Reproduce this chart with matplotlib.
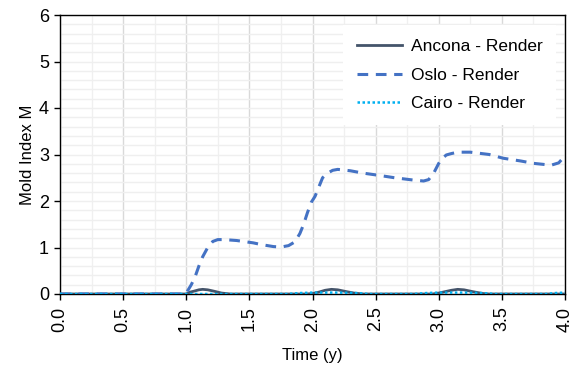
import matplotlib
matplotlib.use("Agg")
import matplotlib.pyplot as plt
import numpy as np
from matplotlib.ticker import MultipleLocator, FormatStrFormatter

plt.rcParams['font.family'] = ['Liberation Sans', 'DejaVu Sans']

oslo_x = [0, 0.98, 1.0, 1.04, 1.07, 1.1, 1.13, 1.17, 1.21, 1.25, 1.3, 1.4, 1.53, 1.6, 1.69, 1.75, 1.81, 1.86, 1.9, 1.93, 1.96, 1.99, 2.02, 2.05, 2.08, 2.12, 2.16, 2.2, 2.3, 2.4, 2.53, 2.65, 2.8, 2.88, 2.92, 2.96, 3.0, 3.03, 3.06, 3.1, 3.15, 3.25, 3.4, 3.51, 3.65, 3.75, 3.89, 3.95, 4.0]
oslo_y = [0, 0, 0.02, 0.2, 0.37, 0.6, 0.8, 1.0, 1.13, 1.17, 1.17, 1.15, 1.10, 1.06, 1.02, 1.01, 1.04, 1.12, 1.3, 1.5, 1.75, 1.97, 2.1, 2.3, 2.5, 2.6, 2.66, 2.68, 2.65, 2.6, 2.55, 2.5, 2.45, 2.43, 2.46, 2.6, 2.81, 2.92, 2.99, 3.02, 3.05, 3.05, 3.0, 2.92, 2.86, 2.81, 2.77, 2.82, 2.97]

ancona_x = [0, 1.0, 1.03, 1.06, 1.1, 1.13, 1.17, 1.22, 1.28, 1.35, 1.4, 1.95, 2.0, 2.05, 2.1, 2.15, 2.2, 2.27, 2.33, 2.4, 2.95, 3.0, 3.05, 3.1, 3.15, 3.2, 3.27, 3.35, 3.4, 4.0]
ancona_y = [0, 0, 0.04, 0.06, 0.09, 0.1, 0.09, 0.06, 0.02, 0, 0, 0, 0.01, 0.04, 0.08, 0.1, 0.09, 0.05, 0.02, 0, 0, 0.02, 0.05, 0.08, 0.1, 0.09, 0.05, 0.01, 0, 0]

cairo_x = [0, 1.8, 1.9, 2.0, 2.2, 2.35, 2.45, 2.8, 2.9, 3.0, 3.2, 3.35, 3.45, 3.85, 3.92, 4.0]
cairo_y = [0, 0, 0.02, 0.03, 0.03, 0.02, 0, 0, 0.02, 0.03, 0.03, 0.02, 0, 0, 0.02, 0.03]

fig = plt.figure(figsize=(5.7, 3.69), dpi=100)
ax = fig.add_axes([60/570, 1-294/369, 505/570, 279/369])

ax.plot(ancona_x, ancona_y, color='#44546A', lw=2, ls='-', label='Ancona - Render', zorder=3)
ax.plot(oslo_x, oslo_y, color='#4472C4', lw=2.2, ls=(0, (3.5, 2.5)), label='Oslo - Render', zorder=3)
ax.plot(cairo_x, cairo_y, color='#00B0F0', lw=1.8, ls=(0, (1, 1)), label='Cairo - Render', zorder=4)

ax.set_xlim(0, 4)
ax.set_ylim(0, 6)
ax.xaxis.set_major_locator(MultipleLocator(0.5))
ax.xaxis.set_minor_locator(MultipleLocator(0.25))
ax.yaxis.set_major_locator(MultipleLocator(1))
ax.yaxis.set_minor_locator(MultipleLocator(0.2))
ax.xaxis.set_major_formatter(FormatStrFormatter('%.1f'))

ax.grid(which='major', axis='x', color='#d9d9d9', lw=1)
ax.grid(which='minor', axis='x', color='#f0f0f0', lw=1)
ax.grid(which='both', axis='y', color='#efefef', lw=1)
ax.set_axisbelow(True)

for s in ax.spines.values():
    s.set_color('black')
    s.set_linewidth(1)

ax.tick_params(axis='both', which='major', direction='out', length=4, width=1, labelsize=13, colors='black')
ax.tick_params(axis='both', which='minor', length=0)
ax.tick_params(axis='x', labelrotation=90, pad=5)
ax.tick_params(axis='y', pad=4)

ax.set_xlabel('Time (y)', fontsize=12, labelpad=12)
ax.set_ylabel('Mold Index M', fontsize=12, labelpad=3)

leg = ax.legend(loc='upper right', frameon=True, fontsize=12.5, handlelength=2.6,
                handletextpad=0.5, labelspacing=0.75, borderpad=0.5,
                bbox_to_anchor=(0.99, 0.975))
leg.get_frame().set_edgecolor('none')
leg.get_frame().set_facecolor('white')
leg.get_frame().set_alpha(1)
leg.get_frame().set_boxstyle('square')

fig.savefig('out.png', dpi=100)
